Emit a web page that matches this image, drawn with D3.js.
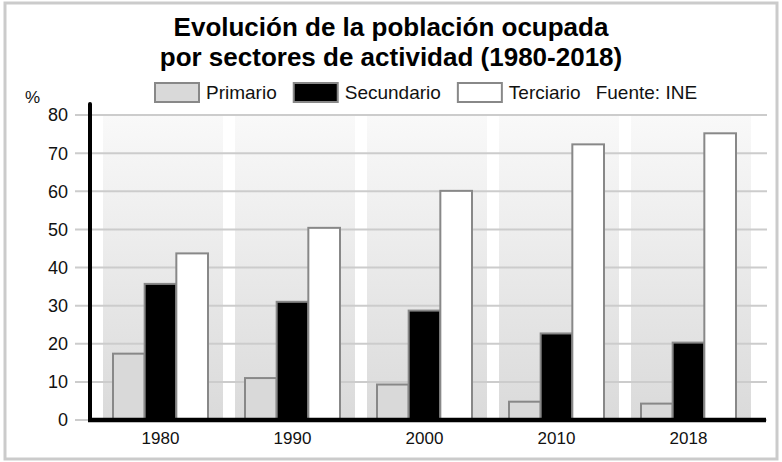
<!DOCTYPE html>
<html>
<head>
<meta charset="utf-8">
<script src="https://cdn.jsdelivr.net/npm/d3@7"></script>
<style>
  body { margin: 0; background: #fff; }
  svg { display: block; font-family: "Liberation Sans", Arial, sans-serif; }
</style>
</head>
<body>
<svg id="chart" width="782" height="462"></svg>
<script>
// Data
const years = ["1980", "1990", "2000", "2010", "2018"];
const sectors = ["Primario", "Secundario", "Terciario"];
const primario = [17.4, 11.0, 9.3, 4.8, 4.3];
const secundario = [35.7, 31.0, 28.7, 22.7, 20.3];
const terciario = [43.7, 50.4, 60.1, 72.3, 75.2];
const yTicks = [0, 10, 20, 30, 40, 50, 60, 70, 80];
const titleLines = ["Evolución de la población ocupada", "por sectores de actividad (1980-2018)"];
const sourceText = "Fuente: INE";

const fills = {Primario: "#d9d9d9", Secundario: "#000", Terciario: "#fff"};
const rows = years.map((y, i) => ({year: y, Primario: primario[i], Secundario: secundario[i], Terciario: terciario[i]}));

const svg = d3.select("#chart");
const W = 782, H = 462;

// outer frame
svg.append("rect")
    .attr("x", 5).attr("y", 3)
    .attr("width", W - 10).attr("height", H - 6)
    .attr("fill", "#fff")
    .attr("stroke", "#cbcbcb")
    .attr("stroke-width", 3);

// gradient for the category bands
const defs = svg.append("defs");
const grad = defs.append("linearGradient")
    .attr("id", "bandGrad")
    .attr("x1", 0).attr("y1", 0).attr("x2", 0).attr("y2", 1);
grad.append("stop").attr("offset", "0%").attr("stop-color", "#f9f9f9");
grad.append("stop").attr("offset", "100%").attr("stop-color", "#dadada");

// Scales
const y = d3.scaleLinear().domain([0, 80]).range([420, 115]);
const x = d3.scaleBand()
    .domain(years)
    .range([97, 757])
    .paddingInner(12 / 132)
    .paddingOuter(6 / 132);
const groupOffset = 10, groupWidth = 95;
const xs = d3.scaleBand().domain(sectors).range([0, groupWidth]);

// Background bands
svg.append("g").selectAll("rect")
    .data(years)
    .join("rect")
    .attr("x", d => x(d))
    .attr("y", y(80))
    .attr("width", x.bandwidth())
    .attr("height", y(0) - y(80))
    .attr("fill", "url(#bandGrad)");

// Gridlines
svg.append("g").selectAll("line")
    .data(yTicks)
    .join("line")
    .attr("x1", 75).attr("x2", 767)
    .attr("y1", d => y(d)).attr("y2", d => y(d))
    .attr("stroke", "#cccccc")
    .attr("stroke-width", 2);

// Y tick labels
svg.append("g").selectAll("text")
    .data(yTicks)
    .join("text")
    .attr("x", 68)
    .attr("y", d => y(d))
    .attr("dy", "0.36em")
    .attr("text-anchor", "end")
    .attr("font-size", 18)
    .attr("fill", "#111")
    .text(d => d);

svg.append("text")
    .attr("x", 25).attr("y", 103)
    .attr("font-size", 17)
    .attr("fill", "#111")
    .text("%");

// Bars
const groups = svg.append("g").selectAll("g")
    .data(rows)
    .join("g")
    .attr("transform", d => `translate(${x(d.year) + groupOffset},0)`);

groups.selectAll("rect")
    .data(d => sectors.map(s => ({key: s, value: d[s]})))
    .join("rect")
    .attr("x", d => xs(d.key))
    .attr("y", d => y(d.value))
    .attr("width", xs.bandwidth())
    .attr("height", d => y(0) - y(d.value))
    .attr("fill", d => fills[d.key])
    .attr("stroke", "#888")
    .attr("stroke-width", 2);

// X labels
svg.append("g").selectAll("text")
    .data(years)
    .join("text")
    .attr("x", d => x(d) + groupOffset + groupWidth / 2)
    .attr("y", 444)
    .attr("text-anchor", "middle")
    .attr("font-size", 17)
    .attr("fill", "#111")
    .text(d => d);

// Axis lines
svg.append("line")
    .attr("x1", 90).attr("x2", 90)
    .attr("y1", 104).attr("y2", y(0))
    .attr("stroke", "#000").attr("stroke-width", 4)
    .attr("stroke-linecap", "round");
svg.append("line")
    .attr("x1", 88).attr("x2", 766)
    .attr("y1", y(0)).attr("y2", y(0))
    .attr("stroke", "#000").attr("stroke-width", 4.5);

// Title
svg.append("text")
    .attr("x", W / 2).attr("text-anchor", "middle")
    .attr("font-size", 26).attr("font-weight", "bold")
    .attr("fill", "#000")
    .selectAll("tspan")
    .data(titleLines)
    .join("tspan")
    .attr("x", W / 2)
    .attr("y", (d, i) => 36 + i * 30)
    .text(d => d);

// Legend
const legend = svg.append("g").attr("font-size", 19).attr("fill", "#111");
let lx = 155;
const ly = 83;
sectors.forEach(s => {
    legend.append("rect")
        .attr("x", lx).attr("y", ly)
        .attr("width", 44).attr("height", 19)
        .attr("fill", fills[s])
        .attr("stroke", "#888").attr("stroke-width", 2);
    const t = legend.append("text")
        .attr("x", lx + 51).attr("y", ly + 9.5)
        .attr("dy", "0.36em")
        .text(s);
    lx += 51 + t.node().getComputedTextLength() + 17;
});
legend.append("text")
    .attr("x", lx - 2).attr("y", ly + 9.5)
    .attr("dy", "0.36em")
    .text(sourceText);
</script>
</body>
</html>
